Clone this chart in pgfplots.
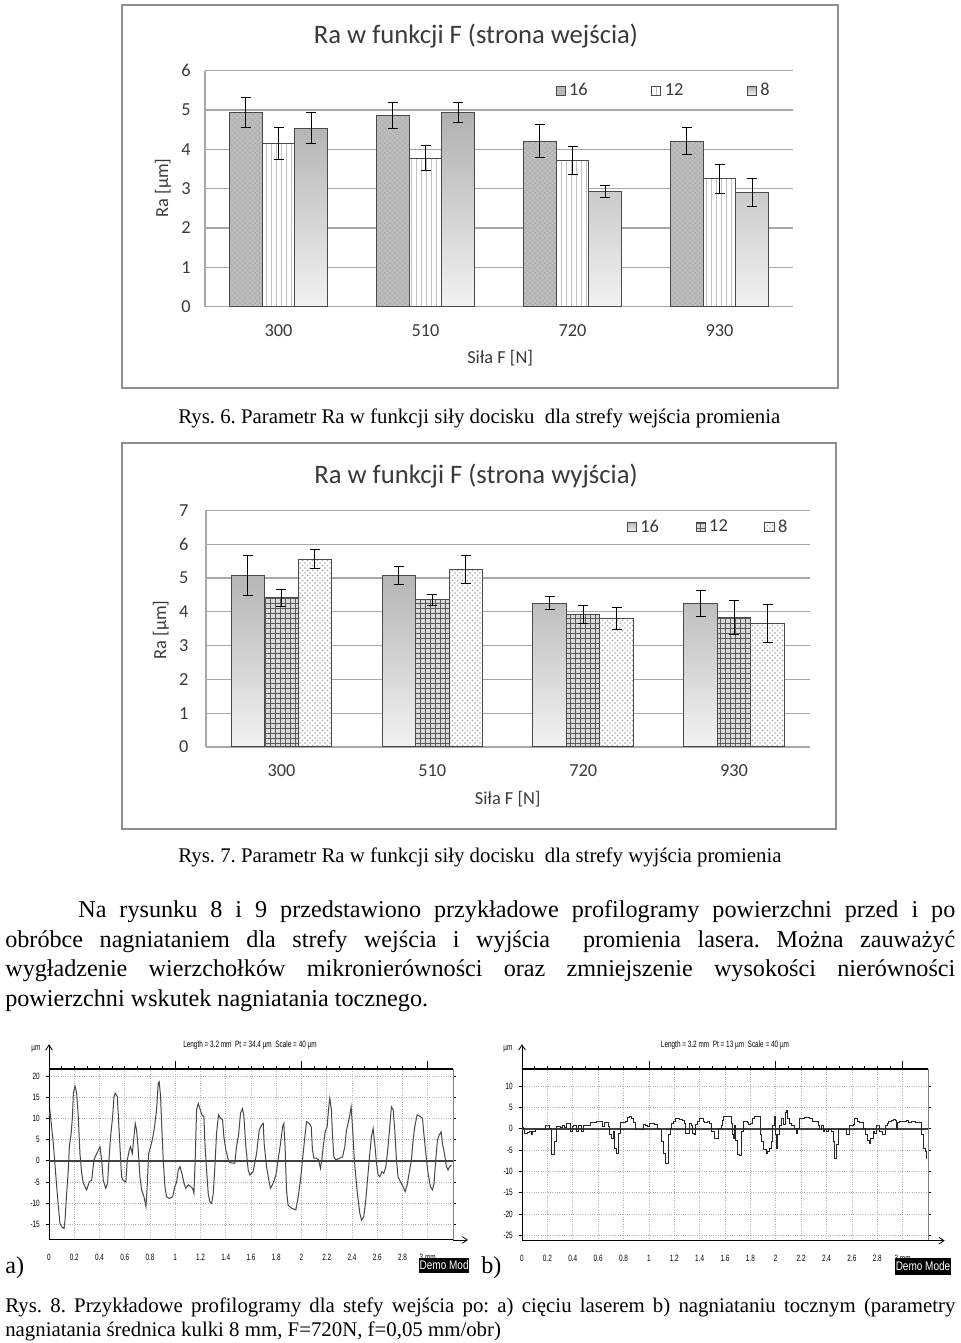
\documentclass[border=0pt]{standalone}
\usepackage{graphicx}
\usepackage{fontspec}
\setmainfont{Liberation Serif}
\newfontfamily\chartfont{Carlito}
\newfontfamily\profont{Liberation Sans}[FakeStretch=0.7]
\newfontfamily\demofont{Liberation Sans}[FakeStretch=0.8]
\usepackage{pgfplots}
\pgfplotsset{compat=1.18}
\usetikzlibrary{patterns,arrows.meta}
\frenchspacing
\definecolor{txt}{HTML}{3A3A3A}
\definecolor{framec}{HTML}{8E8E8E}
\definecolor{gridc}{HTML}{A8A8A8}
\definecolor{barline}{HTML}{4A4A4A}
\newcommand{\cf}{\chartfont\fontsize{11}{13}\selectfont}
\newcommand{\pf}{\profont\fontsize{5.5}{6.5}\selectfont}

\pgfplotsset{
  eb/.style={error bars/.cd, y dir=both, y explicit,
    error bar style={black, line width=0.6pt},
    error mark options={rotate=90, black, mark size=3pt, line width=0.6pt}},
  barchart/.style={
    scale only axis, anchor=south west,
    ybar=0pt, xmin=-0.5, xmax=3.5, ymin=0,
    xtick={0,1,2,3}, xticklabels={300,510,720,930},
    axis x line*=bottom, axis y line*=left,
    axis line style={gridc, line width=0.7pt},
    ymajorgrids, major grid style={gridc, line width=0.7pt},
    major tick length=0pt,
    tick label style={font=\cf, text=txt},
    xticklabel style={yshift=-7pt},
    /pgf/number format/assume math mode=true,
    label style={font=\cf, text=txt},
    xlabel={Siła F [N]}, ylabel={Ra [µm]},
    legend columns=3,
    legend style={draw=none, fill=none, font=\cf, text=txt, anchor=center},
    legend image code/.code={\draw[##1] (0pt,-2.8pt) rectangle (5.6pt,2.8pt);},
  },
  s16a/.style={draw=barline, line width=0.6pt, fill=gray!50, postaction={pattern=crosshatch, pattern color=gray!62}},
  s12a/.style={draw=barline, line width=0.6pt, fill=white, postaction={pattern=vertical lines, pattern color=gray!75}},
  s8a/.style={draw=barline, line width=0.6pt, top color=gray!62, middle color=gray!55, bottom color=gray!10},
  s16b/.style={draw=barline, line width=0.6pt, top color=gray!58, bottom color=gray!10},
  s12b/.style={draw=barline, line width=0.6pt, fill=gray!30, postaction={pattern=grid, pattern color=gray!70!black}},
  s8b/.style={draw=barline, line width=0.6pt, fill=white, postaction={pattern=crosshatch dots, pattern color=gray!70}},
  profile/.style={
    scale only axis, anchor=south west, clip=false,
    xmin=0, xmax=3.2,
    xtick={0,0.2,0.4,0.6,0.8,1,1.2,1.4,1.6,1.8,2,2.2,2.4,2.6,2.8,3},
    xticklabels={0,0.2,0.4,0.6,0.8,1,1.2,1.4,1.6,1.8,2,2.2,2.4,2.6,2.8,3 mm},
    grid=major, major grid style={densely dotted, gray!60, line width=0.4pt},
    axis line style={black, line width=0.6pt},
    tick style={black, line width=0.4pt},
    tick align=outside, major tick length=2pt, minor tick length=2pt,
    minor x tick num=1,
    xtick pos=right, xticklabel pos=left,
    ytick pos=both, yticklabel pos=left,
    extra x ticks={1,2,3}, extra x tick labels={},
    extra x tick style={grid=none, major tick length=5pt},
    tick label style={font=\pf, text=black},
    xticklabel style={yshift=-3pt},
  },
}

\begin{document}
\begin{tikzpicture}
\useasboundingbox (0,0) rectangle (576pt,805.8pt);
\fill[white] (0,0) rectangle (576pt,805.8pt);

% ---------------- Chart 1 ----------------
\draw[framec, line width=1.2pt] (73.2pt,573pt) rectangle (502.8pt,802.8pt);
\node[font=\chartfont\fontsize{16}{19}\selectfont, text=txt] at (285.6pt,784.2pt) {Ra w funkcji F (strona wejścia)};
\begin{axis}[barchart, at={(123pt,621.78pt)}, width=352.8pt, height=141.6pt, bar width=19.6pt,
  ymax=6, ytick={0,1,2,3,4,5,6},
  yticklabel style={xshift=-5pt},
  xlabel style={at={(axis description cs:0.502,-0.217)}, anchor=center},
  ylabel style={at={(axis description cs:-0.0714,0.503)}, anchor=center},
  legend style={at={(axis description cs:0.781,0.914)}, /tikz/every even column/.append style={column sep=36pt}},
]
\addplot[s16a, eb] coordinates {(0,4.93) +- (0,0.38) (1,4.87) +- (0,0.33) (2,4.21) +- (0,0.41) (3,4.21) +- (0,0.35)};
\addplot[s12a, eb] coordinates {(0,4.15) +- (0,0.41) (1,3.78) +- (0,0.31) (2,3.72) +- (0,0.35) (3,3.25) +- (0,0.36)};
\addplot[s8a, eb] coordinates {(0,4.54) +- (0,0.39) (1,4.93) +- (0,0.25) (2,2.92) +- (0,0.15) (3,2.91) +- (0,0.36)};
\legend{16,12,8}
\end{axis}
\node[anchor=base west, inner sep=0pt, font=\fontsize{12.5}{15}\selectfont] at (106.8pt,551.4pt) {Rys. 6. Parametr Ra w funkcji siły docisku~ dla strefy wejścia promienia};

% ---------------- Chart 2 ----------------
\draw[framec, line width=1.2pt] (73.2pt,308.4pt) rectangle (501.6pt,540pt);
\node[font=\chartfont\fontsize{16}{19}\selectfont, text=txt] at (285.6pt,520.2pt) {Ra w funkcji F (strona wyjścia)};
\begin{axis}[barchart, at={(123.6pt,357.6pt)}, width=362.1pt, height=142pt, bar width=20.1pt,
  ymax=7, ytick={0,1,2,3,4,5,6,7},
  yticklabel style={xshift=-7pt},
  xlabel style={at={(axis description cs:0.5,-0.22)}, anchor=center},
  ylabel style={at={(axis description cs:-0.0746,0.494)}, anchor=center},
  legend style={at={(axis description cs:0.833,0.929)}, /tikz/every even column/.append style={column sep=20pt}},
]
\addplot[s16b, eb] coordinates {(0,5.07) +- (0,0.59) (1,5.07) +- (0,0.26) (2,4.25) +- (0,0.19) (3,4.25) +- (0,0.38)};
\addplot[s12b, eb] coordinates {(0,4.42) +- (0,0.25) (1,4.35) +- (0,0.17) (2,3.91) +- (0,0.27) (3,3.84) +- (0,0.50)};
\addplot[s8b, eb] coordinates {(0,5.56) +- (0,0.27) (1,5.25) +- (0,0.42) (2,3.81) +- (0,0.33) (3,3.65) +- (0,0.55)};
\legend{16,12,8}
\end{axis}
\node[anchor=base west, inner sep=0pt, font=\fontsize{12.5}{15}\selectfont] at (106.8pt,288pt) {Rys. 7. Parametr Ra w funkcji siły docisku~ dla strefy wyjścia promienia};

% ---------------- Paragraph ----------------
\begin{scope}[every node/.style={anchor=base west, inner sep=0pt, font=\fontsize{14.5}{17}\selectfont}]
\node at (46.8pt,255pt) {\makebox[526.2pt][s]{Na rysunku 8 i 9 przedstawiono przykładowe profilogramy powierzchni przed i po}};
\node at (3pt,237pt) {\makebox[570pt][s]{obróbce nagniataniem dla strefy wejścia i wyjścia~ promienia lasera. Można zauważyć}};
\node at (3pt,219.6pt) {\makebox[570pt][s]{wygładzenie wierzchołków mikronierówności oraz zmniejszenie wysokości nierówności}};
\node at (3pt,201.6pt) {powierzchni wskutek nagniatania tocznego.};
\end{scope}

% ---------------- Profilogram a ----------------
\begin{axis}[profile, at={(29.4pt,61.8pt)}, width=242.4pt, height=102.42pt,
  ymin=-18.7, ymax=21.56, ytick={-15,-10,-5,0,5,10,15,20}, yticklabels={-15,-10,-5,0,5,10,15,20}]
\draw[line width=1.1pt, black!75] (axis cs:0,0) -- (axis cs:3.2,0);
\addplot[black!72, line width=0.6pt] table {
0.000 10.2
0.008 11.6
0.034 4.1
0.061 -6.1
0.074 -10.8
0.087 -14.8
0.100 -15.6
0.119 -16.0
0.127 -14.0
0.140 -7.7
0.153 -2.2
0.161 3.3
0.174 6.0
0.185 10.0
0.193 15.9
0.206 17.6
0.219 15.9
0.232 10.4
0.245 1.7
0.259 -3.0
0.272 -5.3
0.298 -6.9
0.319 -5.0
0.338 -4.6
0.356 0.2
0.372 1.3
0.391 2.5
0.404 3.3
0.417 0.2
0.430 -4.6
0.449 -6.5
0.464 -5.3
0.475 0.2
0.488 5.7
0.504 10.4
0.515 15.1
0.525 15.9
0.541 15.1
0.551 9.6
0.562 3.3
0.575 -3.8
0.588 -4.7
0.609 -5.0
0.620 0.2
0.636 2.5
0.646 3.3
0.660 1.7
0.673 5.7
0.683 8.8
0.694 7.2
0.707 2.5
0.720 -3.8
0.734 -6.9
0.752 -8.5
0.768 -10.8
0.778 -6.1
0.789 1.7
0.805 3.3
0.821 5.3
0.836 8.0
0.852 12.0
0.865 18.2
0.873 18.6
0.884 15.1
0.894 7.2
0.905 0.2
0.918 -6.1
0.931 -8.5
0.953 -8.9
0.979 -8.5
0.997 -6.1
1.011 -5.0
1.024 -2.2
1.037 -1.4
1.053 -3.0
1.069 -5.3
1.084 -6.5
1.103 -5.7
1.121 -6.1
1.137 -6.5
1.148 -7.7
1.158 0.2
1.169 12.0
1.182 13.5
1.195 12.3
1.211 10.8
1.227 10.4
1.235 4.1
1.248 -2.2
1.261 -7.7
1.274 -9.7
1.288 -10.1
1.301 -7.7
1.314 -1.4
1.327 6.4
1.343 10.8
1.359 10.0
1.375 9.6
1.385 5.7
1.401 2.5
1.420 0.2
1.433 -0.5
1.472 -0.6
1.485 3.3
1.501 6.0
1.517 11.2
1.533 12.3
1.544 10.4
1.559 3.3
1.578 -2.2
1.591 -3.4
1.617 -2.6
1.644 1.7
1.665 7.2
1.683 8.4
1.697 8.8
1.704 4.1
1.723 -1.4
1.741 -4.6
1.754 -6.5
1.776 -5.3
1.797 -3.4
1.815 0.2
1.834 4.1
1.850 8.0
1.860 8.8
1.871 2.5
1.881 -6.9
1.894 -10.5
1.921 -11.2
1.955 -11.6
1.974 -8.5
1.992 -4.6
2.008 0.2
2.024 4.9
2.040 9.2
2.061 8.8
2.077 8.0
2.087 2.5
2.098 0.6
2.119 0.6
2.135 0.2
2.150 -1.8
2.161 0.2
2.172 3.3
2.187 6.8
2.203 8.0
2.214 12.0
2.224 14.7
2.237 12.0
2.245 6.4
2.256 0.9
2.272 0.2
2.303 0.6
2.325 0.9
2.343 3.3
2.356 7.2
2.372 9.2
2.383 10.8
2.393 12.7
2.404 8.0
2.417 0.9
2.430 -3.8
2.443 -7.7
2.462 -12.4
2.475 -14.0
2.493 -13.2
2.509 -9.3
2.525 -3.8
2.541 1.7
2.554 5.7
2.567 7.6
2.580 4.1
2.594 -0.6
2.607 -3.4
2.620 -3.8
2.636 -2.6
2.652 -3.0
2.668 -1.4
2.683 2.5
2.699 8.0
2.712 12.7
2.726 12.0
2.739 7.2
2.752 0.2
2.765 -3.8
2.784 -5.0
2.805 -6.1
2.821 -7.3
2.837 -5.7
2.852 -3.0
2.871 0.2
2.884 4.9
2.897 8.0
2.916 10.8
2.937 10.5
2.958 10.0
2.974 4.9
2.990 0.2
3.003 -3.0
3.021 -6.1
3.037 -6.9
3.050 -5.3
3.063 0.2
3.077 4.9
3.090 6.0
3.106 6.8
3.116 4.1
3.132 1.7
3.148 -1.4
3.161 -2.2
3.174 -1.4
3.187 -1.0
};
\draw[line width=1pt] (rel axis cs:0,1) -- (rel axis cs:1,1);
\draw[gray, line width=0.6pt] (rel axis cs:1,0) -- (rel axis cs:1,1);
\draw[-{Straight Barb[length=3pt, width=4pt]}, line width=0.5pt] (rel axis cs:0,1) -- ++(0pt,15pt);
\draw[-{Straight Barb[length=3pt, width=4pt]}, line width=0.5pt] (rel axis cs:1,0) -- ++(9pt,0pt);
\end{axis}

% ---------------- Profilogram b ----------------
\begin{axis}[profile, at={(313.2pt,61.38pt)}, width=243.6pt, height=102.84pt,
  ymin=-26.3, ymax=13.94, ytick={-25,-20,-15,-10,-5,0,5,10}, yticklabels={-25,-20,-15,-10,-5,0,5,10}]
\draw[line width=1.1pt, black!75] (axis cs:0,0) -- (axis cs:3.2,0);
\addplot[black!85, line width=0.6pt, const plot] table {
0.000 0.23
0.013 0.08
0.021 -1.10
0.040 -0.94
0.061 -0.70
0.071 -1.48
0.082 -0.70
0.105 -0.31
0.145 -0.16
0.185 0.86
0.203 0.86
0.219 0.08
0.232 -6.17
0.250 -6.17
0.258 -3.05
0.269 0.47
0.290 0.47
0.303 0.23
0.316 0.70
0.335 0.23
0.351 1.25
0.369 1.25
0.382 -0.70
0.395 0.47
0.409 0.86
0.430 -0.70
0.448 0.70
0.467 -0.70
0.482 0.86
0.501 0.70
0.540 1.48
0.588 1.64
0.620 1.64
0.633 0.47
0.651 1.48
0.667 1.48
0.678 0.47
0.688 -1.48
0.704 -2.27
0.720 -0.70
0.730 -4.61
0.746 -5.78
0.759 -1.09
0.772 -1.09
0.778 1.48
0.799 1.48
0.817 1.64
0.830 2.58
0.844 2.81
0.862 2.42
0.878 1.48
0.896 -0.31
0.915 -0.31
0.936 -0.08
0.957 1.02
0.975 0.86
0.989 0.47
1.002 1.25
1.015 1.25
1.041 1.02
1.068 0.08
1.086 -0.31
1.099 -3.05
1.115 -5.78
1.128 -8.13
1.142 -8.13
1.155 -1.48
1.168 0.08
1.181 1.25
1.194 1.80
1.213 2.42
1.239 2.27
1.265 2.03
1.284 1.25
1.292 -1.09
1.305 -1.09
1.318 1.25
1.331 1.25
1.337 0.86
1.345 -1.09
1.358 -1.48
1.371 1.02
1.384 1.64
1.397 2.42
1.416 2.42
1.429 1.64
1.442 1.48
1.463 1.64
1.476 1.25
1.490 -0.70
1.511 -0.70
1.521 -2.27
1.542 -2.42
1.550 0.08
1.569 0.86
1.579 2.03
1.590 2.81
1.616 2.97
1.635 2.97
1.648 1.25
1.661 -1.48
1.669 -2.27
1.677 0.86
1.685 -2.66
1.695 -6.17
1.714 -6.33
1.727 -6.17
1.732 -0.70
1.743 1.64
1.758 1.80
1.774 1.48
1.788 1.02
1.801 1.25
1.814 2.42
1.832 2.81
1.846 2.97
1.867 2.81
1.880 -1.48
1.890 -3.05
1.906 -5.00
1.925 -5.78
1.938 -5.39
1.951 -4.61
1.964 -3.05
1.977 0.86
1.991 2.81
1.998 -1.48
2.009 -4.61
2.017 -1.48
2.033 0.86
2.043 2.42
2.059 1.02
2.075 3.83
2.085 4.38
2.096 2.42
2.112 1.25
2.128 0.86
2.149 0.08
2.162 -1.09
2.175 0.08
2.188 2.42
2.228 2.58
2.267 2.42
2.286 1.80
2.320 1.64
2.333 0.70
2.346 -0.31
2.359 0.86
2.373 -0.55
2.386 -0.08
2.399 -0.70
2.412 -0.31
2.425 -0.08
2.439 -0.70
2.452 -3.05
2.460 -6.95
2.473 -7.11
2.481 -3.83
2.491 -0.31
2.513 -0.08
2.544 -0.08
2.557 -1.48
2.571 -1.33
2.584 0.86
2.610 1.02
2.623 2.42
2.644 1.80
2.663 1.48
2.676 1.48
2.689 0.08
2.708 -1.48
2.723 -2.66
2.737 -3.44
2.750 -2.27
2.768 -0.70
2.781 -1.09
2.795 0.86
2.808 0.86
2.821 -0.70
2.839 -1.48
2.855 -1.48
2.868 0.86
2.882 1.25
2.892 1.80
2.913 2.03
2.926 2.27
2.940 2.03
2.953 -0.31
2.961 1.48
2.979 1.64
3.006 1.80
3.032 2.03
3.050 1.48
3.071 1.80
3.098 1.48
3.137 1.48
3.151 -1.48
3.164 -4.61
3.177 -5.39
3.190 -7.03
};
\draw[line width=1pt] (rel axis cs:0,1) -- (rel axis cs:1,1);
\draw[gray, line width=0.6pt] (rel axis cs:1,0) -- (rel axis cs:1,1);
\draw[-{Straight Barb[length=3pt, width=4pt]}, line width=0.5pt] (rel axis cs:0,1) -- ++(0pt,15pt);
\draw[-{Straight Barb[length=3pt, width=4pt]}, line width=0.5pt] (rel axis cs:1,0) -- ++(10pt,0pt);
\end{axis}

% profilogram annotations
\node[font=\pf] at (150pt,178.8pt) {Length = 3.2 mm\ \ Pt = 34.4 µm\ \ Scale = 40 µm};
\node[font=\pf] at (435pt,178.8pt) {Length = 3.2 mm\ \ Pt = 13 µm\ \ Scale = 40 µm};
\node[font=\pf] at (21.6pt,176.4pt) {µm};
\node[font=\pf] at (304.8pt,176.4pt) {µm};
\node[fill=black, text=white, font=\demofont\fontsize{7.5}{8}\selectfont, inner sep=0.5pt, minimum width=27pt, minimum height=9pt] at (266.5pt,46.5pt) {Demo Mod};
\node[fill=black, text=white, font=\demofont\fontsize{7.5}{8}\selectfont, inner sep=0.5pt, minimum width=30pt, minimum height=10.2pt] at (553.8pt,45.9pt) {Demo Mode};
\node[anchor=base west, inner sep=0pt, font=\fontsize{14.5}{17}\selectfont] at (3pt,41.4pt) {a)};
\node[anchor=base west, inner sep=0pt, font=\fontsize{14.5}{17}\selectfont] at (288.6pt,41.4pt) {b)};

% ---------------- Caption Rys. 8 ----------------
\node[anchor=base west, inner sep=0pt, font=\fontsize{12.5}{15}\selectfont] at (3pt,18pt) {\makebox[570pt][s]{Rys. 8. Przykładowe profilogramy dla stefy wejścia po: a) cięciu laserem b) nagniataniu tocznym (parametry}};
\node[anchor=base west, inner sep=0pt, font=\fontsize{12.5}{15}\selectfont] at (3pt,3.6pt) {nagniatania średnica kulki 8 mm, F=720N, f=0,05 mm/obr)};
\end{tikzpicture}
\end{document}
